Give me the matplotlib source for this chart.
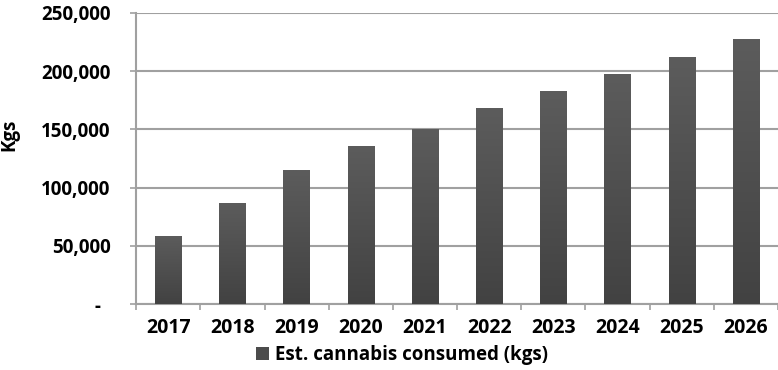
import numpy as np
import matplotlib.pyplot as plt
from matplotlib.colors import LinearSegmentedColormap
from matplotlib.patches import Patch
from matplotlib.ticker import FuncFormatter

years = ["2017", "2018", "2019", "2020", "2021", "2022", "2023", "2024", "2025", "2026"]
consumed = [58500, 86800, 115000, 135700, 150000, 168000, 183000, 197600, 212000, 227500]

plt.rcParams['font.family'] = ['Open Sans', 'DejaVu Sans']
plt.rcParams['font.weight'] = 'bold'

fs = 13.5

fig = plt.figure(figsize=(7.78, 3.70), dpi=100)
ax = fig.add_axes([0.175, 0.178, 0.825, 0.787])

x = np.arange(len(years))
bars = ax.bar(x, consumed, width=0.41, color="#505050", zorder=3)

# vertical gradient on each bar, lighter at the top
cmap = LinearSegmentedColormap.from_list("g", ["#424242", "#5c5c5c"])
grad = np.linspace(0, 1, 100).reshape(-1, 1)
for b in bars:
    im = ax.imshow(grad, cmap=cmap, aspect="auto", origin="lower",
                   extent=[b.get_x(), b.get_x() + b.get_width(), 0, b.get_height()],
                   zorder=4)
    im.set_clip_path(b)

ax.set_xlim(-0.5, len(years) - 0.5)
ax.set_ylim(0, 250000)
ax.set_yticks(np.arange(0, 250001, 50000))
ax.yaxis.set_major_formatter(FuncFormatter(lambda v, p: "-  " if v == 0 else f"{int(v):,}"))
ax.yaxis.grid(True, color="#a0a0a0", linewidth=1.5, zorder=0)

ax.set_xticks(x)
ax.set_xticklabels(years)
ax.set_xticks(np.arange(-0.5, len(years)), minor=True)
ax.tick_params(axis="x", which="major", length=0, pad=10, labelsize=fs + 0.5)
ax.tick_params(axis="x", which="minor", length=4.5, width=1.2, color="#a0a0a0")
ax.tick_params(axis="y", length=4.5, width=1.2, color="#a0a0a0", pad=14, labelsize=fs)

for s in ["top", "right"]:
    ax.spines[s].set_visible(False)
for s in ["left", "bottom"]:
    ax.spines[s].set_color("#a0a0a0")
    ax.spines[s].set_linewidth(1.5)

ax.set_ylabel("Kgs", fontsize=fs, fontweight="bold")
ax.yaxis.set_label_coords(-0.182, 0.58)

ax.legend(handles=[Patch(facecolor="#4c4c4c", label="Est. cannabis consumed (kgs)")],
          loc="center", bbox_to_anchor=(0.414, -0.175), frameon=False,
          fontsize=fs, handlelength=0.7, handleheight=0.7, handletextpad=0.3,
          borderaxespad=0)

plt.savefig("out.png", dpi=100)
